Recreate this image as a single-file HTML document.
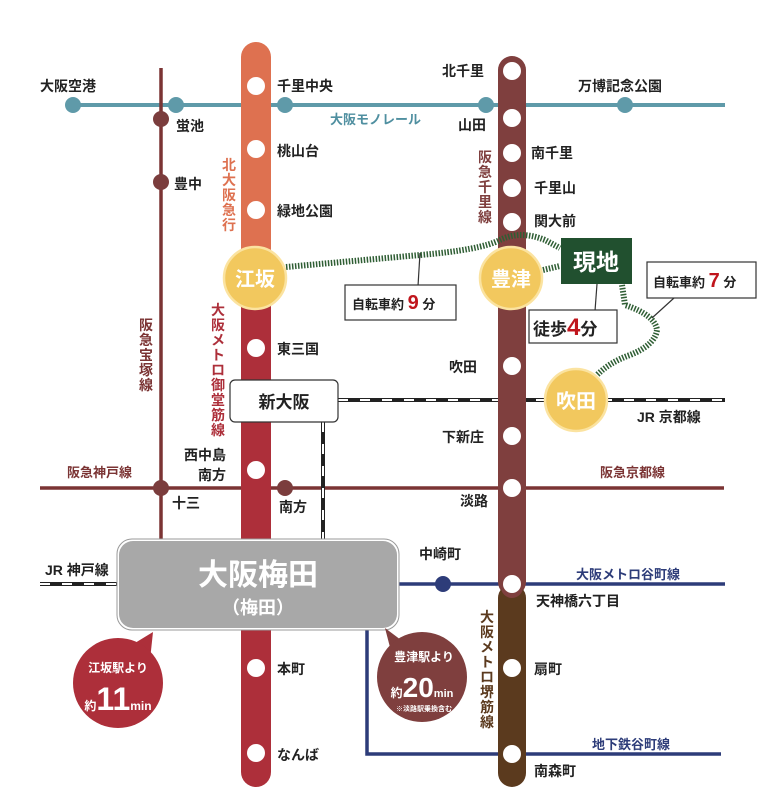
<!DOCTYPE html>
<html><head><meta charset="utf-8"><style>
html,body{margin:0;padding:0;background:#fff;width:766px;height:800px;overflow:hidden}
svg text{font-family:"Liberation Sans","Noto Sans CJK JP",sans-serif;font-weight:bold}
</style></head><body>
<svg width="766" height="800" viewBox="0 0 766 800" xmlns="http://www.w3.org/2000/svg">
<line x1="73" y1="105" x2="725" y2="105" stroke="#5f9aa9" stroke-width="4"/>
<line x1="161" y1="68" x2="161" y2="542" stroke="#7b3434" stroke-width="3.5"/>
<line x1="40" y1="488" x2="724" y2="488" stroke="#7b3434" stroke-width="3.5"/>
<line x1="338" y1="400" x2="725" y2="400" stroke="#222" stroke-width="4"/>
<line x1="338" y1="400" x2="725" y2="400" stroke="#fff" stroke-width="2" stroke-dasharray="10 12"/>
<line x1="323" y1="422" x2="323" y2="542" stroke="#222" stroke-width="4"/>
<line x1="323" y1="422" x2="323" y2="542" stroke="#fff" stroke-width="2" stroke-dasharray="10 12"/>
<line x1="40" y1="584" x2="120" y2="584" stroke="#222" stroke-width="4"/>
<line x1="40" y1="584" x2="120" y2="584" stroke="#fff" stroke-width="2" stroke-dasharray="10 12"/>
<line x1="397" y1="584" x2="725" y2="584" stroke="#2d3c79" stroke-width="3.5"/>
<polyline points="367,628 367,754 721,754" fill="none" stroke="#2d3c79" stroke-width="3.5"/>
<circle cx="443" cy="584" r="8" fill="#2d3c79"/>
<rect x="241" y="42" width="30" height="230" rx="15" fill="#de7150"/>
<rect x="241" y="260" width="30" height="527" rx="15" fill="#ad2f3a"/>
<rect x="498" y="56" width="28" height="540" rx="14" fill="#7f3f3e"/>
<rect x="498" y="584" width="28" height="203" rx="14" fill="#5b3a1e"/>
<circle cx="512" cy="587" r="11" fill="#7f3f3e"/>
<g fill="#fff">
<circle cx="256" cy="86" r="9"/><circle cx="256" cy="149" r="9"/><circle cx="256" cy="210" r="9"/>
<circle cx="256" cy="348" r="9"/><circle cx="256" cy="470" r="9"/><circle cx="256" cy="668" r="9"/><circle cx="256" cy="753" r="9"/>
<circle cx="512" cy="71" r="9"/><circle cx="512" cy="118" r="9"/><circle cx="512" cy="153" r="9"/><circle cx="512" cy="188" r="9"/><circle cx="512" cy="222" r="9"/>
<circle cx="512" cy="366" r="9"/><circle cx="512" cy="436" r="9"/><circle cx="512" cy="488" r="9"/><circle cx="512" cy="584" r="9"/><circle cx="512" cy="668" r="9"/><circle cx="512" cy="754" r="9"/>
</g>
<g fill="#5f9aa9"><circle cx="73" cy="105" r="8"/><circle cx="176" cy="105" r="8"/><circle cx="285" cy="105" r="8"/><circle cx="486" cy="105" r="8"/><circle cx="625" cy="105" r="8"/></g>
<g fill="#7b3d3d"><circle cx="161" cy="119" r="8"/><circle cx="161" cy="182" r="8"/><circle cx="161" cy="488" r="8"/><circle cx="285" cy="488" r="8"/></g>
<g fill="none" stroke="#2f5e34" stroke-width="6" stroke-dasharray="1.5 1.5">
<path d="M286,267 L420,255 Q480,250 500,240 Q520,230 545,240 L560,248"/>
<path d="M543,270 L560,266"/>
<path d="M622,285 L625,305 Q655,315 657,330 Q655,345 630,355 Q610,362 597,375"/>
</g>
<line x1="420" y1="253" x2="418" y2="286" stroke="#333" stroke-width="1.2"/>
<line x1="597" y1="284" x2="595" y2="311" stroke="#333" stroke-width="1.2"/>
<line x1="674" y1="298" x2="652" y2="318" stroke="#333" stroke-width="1.2"/>
<g fill="#f2c85e" stroke="#fbe3a0" stroke-width="2.5">
<circle cx="255" cy="278" r="31"/><circle cx="511" cy="278" r="31"/><circle cx="576" cy="400" r="31"/>
</g>
<g fill="#fff" font-size="20" text-anchor="middle">
<text x="255" y="286">江坂</text><text x="511" y="286">豊津</text><text x="576" y="408">吹田</text>
</g>
<rect x="561" y="238" width="71" height="46" fill="#21502f"/>
<text x="596" y="270" fill="#fff" font-size="23" text-anchor="middle">現地</text>
<rect x="345" y="285" width="111" height="35" fill="#fff" stroke="#333" stroke-width="1.2"/>
<text x="352" y="309" font-size="13" fill="#222">自転車約 <tspan fill="#c0151c" font-size="20">9</tspan> 分</text>
<rect x="529" y="310" width="88" height="33" fill="#fff" stroke="#333" stroke-width="1.2"/>
<text x="533" y="335" font-size="17" fill="#222">徒歩<tspan fill="#c0151c" font-size="24">4</tspan>分</text>
<rect x="647" y="262" width="109" height="36" fill="#fff" stroke="#333" stroke-width="1.2"/>
<text x="653" y="287" font-size="13" fill="#222">自転車約 <tspan fill="#c0151c" font-size="20">7</tspan> 分</text>
<rect x="230" y="380" width="108" height="42" rx="5" fill="#fff" stroke="#333" stroke-width="1.2"/>
<text x="284" y="408" font-size="17" fill="#222" text-anchor="middle" font-weight="normal">新大阪</text>
<rect x="117" y="539" width="282" height="91" rx="15" fill="#fff" stroke="#999" stroke-width="1"/>
<rect x="119" y="541" width="278" height="87" rx="14" fill="#a8a8a8"/>
<text x="258" y="585" font-size="30" fill="#fff" text-anchor="middle">大阪梅田</text>
<text x="258" y="614" font-size="18" fill="#fff" text-anchor="middle">（梅田）</text>
<path d="M130,646 L153,632 L150,660 Z" fill="#ad2f3a"/>
<circle cx="118" cy="683" r="45" fill="#ad2f3a"/>
<text x="118" y="672" font-size="12" fill="#fff" text-anchor="middle">江坂駅より</text>
<text x="118" y="710" fill="#fff" text-anchor="middle"><tspan font-size="12">約</tspan><tspan font-size="32">11</tspan><tspan font-size="12">min</tspan></text>
<path d="M385,628 L405,643 L392,655 Z" fill="#7f3f3e"/>
<circle cx="422" cy="677" r="45" fill="#7f3f3e"/>
<text x="424" y="661" font-size="12" fill="#fff" text-anchor="middle">豊津駅より</text>
<text x="422" y="697" fill="#fff" text-anchor="middle"><tspan font-size="12">約</tspan><tspan font-size="28">20</tspan><tspan font-size="11">min</tspan></text>
<text x="424" y="711" font-size="7" fill="#fff" text-anchor="middle">※淡路駅乗換含む</text>
<g font-size="14" fill="#222">
<text x="40" y="91">大阪空港</text>
<text x="176" y="131">蛍池</text>
<text x="174" y="189">豊中</text>
<text x="277" y="91">千里中央</text>
<text x="277" y="156">桃山台</text>
<text x="277" y="216">緑地公園</text>
<text x="277" y="354">東三国</text>
<text x="184" y="460">西中島</text>
<text x="198" y="480">南方</text>
<text x="172" y="508">十三</text>
<text x="279" y="512">南方</text>
<text x="277" y="674">本町</text>
<text x="277" y="760">なんば</text>
<text x="442" y="76">北千里</text>
<text x="458" y="130">山田</text>
<text x="531" y="158">南千里</text>
<text x="534" y="193">千里山</text>
<text x="534" y="226">関大前</text>
<text x="578" y="91">万博記念公園</text>
<text x="449" y="372">吹田</text>
<text x="442" y="442">下新庄</text>
<text x="460" y="506">淡路</text>
<text x="419" y="559">中崎町</text>
<text x="536" y="606">天神橋六丁目</text>
<text x="534" y="674">扇町</text>
<text x="534" y="776">南森町</text>
<text x="45" y="575">JR 神戸線</text>
<text x="637" y="422">JR 京都線</text>
</g>
<g font-size="13">
<text x="330" y="124" fill="#4f8fa0">大阪モノレール</text>
<text x="67" y="477" fill="#7b3434">阪急神戸線</text>
<text x="600" y="477" fill="#7b3434">阪急京都線</text>
<text x="576" y="579" fill="#2d3c79">大阪メトロ谷町線</text>
<text x="592" y="749" fill="#2d3c79">地下鉄谷町線</text>
</g>
<g font-size="14" font-weight="normal" text-anchor="middle">
<text fill="#de7150"><tspan x="229" y="170">北</tspan><tspan x="229" y="185">大</tspan><tspan x="229" y="200">阪</tspan><tspan x="229" y="215">急</tspan><tspan x="229" y="230">行</tspan></text>
<text fill="#ad2f3a"><tspan x="218" y="315">大</tspan><tspan x="218" y="330">阪</tspan><tspan x="218" y="345">メ</tspan><tspan x="218" y="360">ト</tspan><tspan x="218" y="375">ロ</tspan><tspan x="218" y="390">御</tspan><tspan x="218" y="405">堂</tspan><tspan x="218" y="420">筋</tspan><tspan x="218" y="435">線</tspan></text>
<text fill="#7b3434"><tspan x="146" y="330">阪</tspan><tspan x="146" y="345">急</tspan><tspan x="146" y="360">宝</tspan><tspan x="146" y="375">塚</tspan><tspan x="146" y="390">線</tspan></text>
<text fill="#7f3f3e"><tspan x="485" y="162">阪</tspan><tspan x="485" y="177">急</tspan><tspan x="485" y="192">千</tspan><tspan x="485" y="207">里</tspan><tspan x="485" y="222">線</tspan></text>
<text fill="#5b3a1e"><tspan x="487" y="622">大</tspan><tspan x="487" y="637">阪</tspan><tspan x="487" y="652">メ</tspan><tspan x="487" y="667">ト</tspan><tspan x="487" y="682">ロ</tspan><tspan x="487" y="697">堺</tspan><tspan x="487" y="712">筋</tspan><tspan x="487" y="727">線</tspan></text>
</g>
</svg>
</body></html>
